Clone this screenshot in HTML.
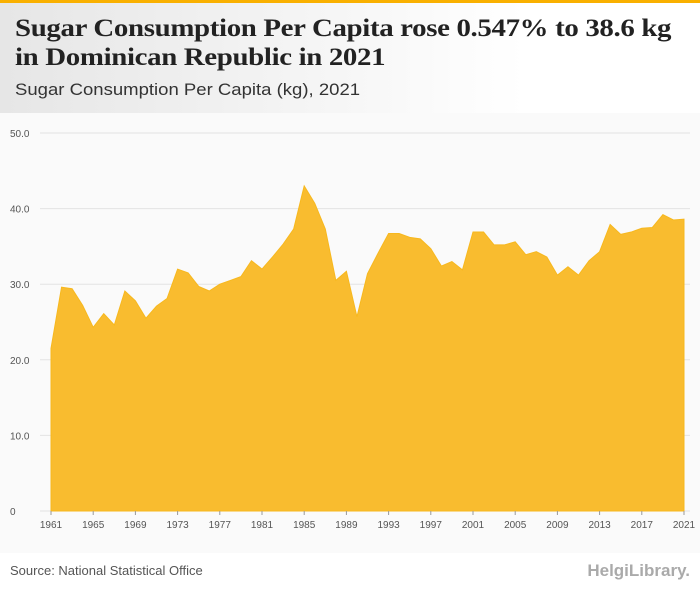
<!DOCTYPE html>
<html><head><meta charset="utf-8"><style>
body{margin:0;width:700px;height:596px;overflow:hidden;background:#fff;font-family:"Liberation Sans",sans-serif}
#top{position:absolute;left:0;top:0;width:700px;height:3px;background:#f9b000}
#hdr{position:absolute;left:0;top:3px;width:700px;height:110px;background:linear-gradient(90deg,#e6e6e6,#fff 75%)}
h1{position:absolute;left:15px;top:14px;margin:0;font:bold 25px/29px "Liberation Serif",serif;color:#222;letter-spacing:-0.3px;transform:scaleX(1.155);transform-origin:0 0;white-space:nowrap}
#sub{position:absolute;left:15px;top:80px;font-size:17px;color:#333;transform:scaleX(1.09);transform-origin:0 0;white-space:nowrap}
#src{position:absolute;left:10px;top:563px;font-size:13px;color:#555}
#logo{position:absolute;right:10px;top:561px;font-size:17px;color:#aaa;font-weight:bold}
</style></head><body>
<div id="top"></div>
<div id="hdr"></div>
<h1>Sugar Consumption Per Capita rose 0.547% to 38.6 kg<br>in Dominican Republic in 2021</h1>
<div id="sub">Sugar Consumption Per Capita (kg), 2021</div>
<svg id="chart" style="position:absolute;left:0;top:113px" width="700" height="440"></svg>
<div id="src">Source: National Statistical Office</div>
<div id="logo">HelgiLibrary.</div>
<script>
const years=[];for(let y=1961;y<=2021;y++)years.push(y);
const values=[21.5,29.6,29.4,27.2,24.3,26.1,24.6,29.1,27.8,25.5,27.1,28.1,32.0,31.5,29.7,29.1,30.0,30.5,31.0,33.1,32.0,33.6,35.3,37.3,43.0,40.7,37.3,30.5,31.7,25.7,31.4,34.1,36.7,36.7,36.2,36.0,34.7,32.4,33.0,31.9,36.9,36.9,35.2,35.2,35.6,33.9,34.3,33.6,31.2,32.3,31.2,33.1,34.3,37.9,36.6,36.9,37.4,37.5,39.2,38.5,38.6];
const yTicks=[0,10,20,30,40,50];
const xTicks=[1961,1965,1969,1973,1977,1981,1985,1989,1993,1997,2001,2005,2009,2013,2017,2021];
const NS='http://www.w3.org/2000/svg',svg=document.getElementById('chart');
const OY=113;
const x=v=>51+(v-1961)*(684-51)/60;
const y=v=>511-OY-v*(511-133)/50;
function mk(t,a){const e=document.createElementNS(NS,t);for(const k in a)e.setAttribute(k,a[k]);svg.appendChild(e);return e;}
const bg=mk('rect',{x:0,y:0,width:700,height:440,fill:'#fafafa'});


yTicks.forEach(t=>{
 const l=mk('line',{x1:40,x2:690,y1:y(t),y2:y(t),stroke:'#e3e3e3','stroke-width':1});
 
 
 const tx=mk('text',{x:10,y:y(t)+4,'font-size':10,fill:'#555','font-family':'Liberation Sans,sans-serif'});
 tx.textContent=t===0?'0':t.toFixed(1);
 
 
});
let d='M'+x(years[0])+','+y(0);
years.forEach((yr,i)=>{d+=' L'+x(yr)+','+y(values[i]);});
d+=' L'+x(years[years.length-1])+','+y(0)+' Z';
const area=mk('path',{d:d,fill:'#f9bc2f',stroke:'#f7b81e','stroke-width':1});


xTicks.forEach(t=>{
 const tk=mk('line',{x1:x(t),x2:x(t),y1:y(0),y2:y(0)+4,stroke:'#999'});
 
 
 const tx=mk('text',{x:x(t),y:y(0)+17,'font-size':10,fill:'#555','text-anchor':'middle','font-family':'Liberation Sans,sans-serif'});
 tx.textContent=t;
 
 
});
</script>
</body></html>
